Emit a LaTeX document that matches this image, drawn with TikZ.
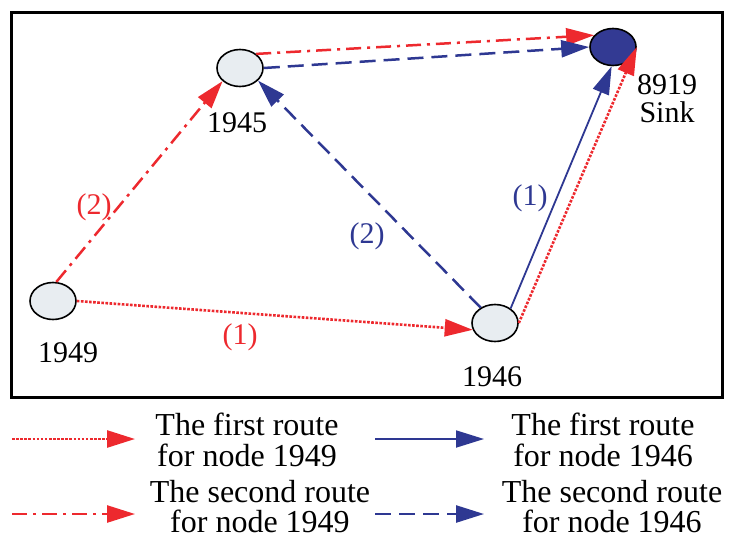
\documentclass[tikz,border=0pt]{standalone}
\usepackage{fontspec}
\setmainfont{Liberation Serif}
\usetikzlibrary{arrows.meta,shapes.geometric}
\definecolor{cred}{RGB}{237,41,46}
\definecolor{cblue}{RGB}{46,56,146}
\definecolor{nfill}{RGB}{232,237,241}
\definecolor{sinkfill}{RGB}{51,58,147}
\tikzset{
  nd/.style={ellipse,draw=black,line width=1.6pt,fill=nfill,minimum width=46pt,minimum height=37pt,inner sep=0pt},
  sinknd/.style={nd,fill=sinkfill},
  lbl/.style={font=\fontsize{30pt}{32pt}\selectfont,inner sep=0pt},
  legtxt/.style={font=\fontsize{32pt}{31pt}\selectfont,align=center,inner sep=0pt},
  legtxtb/.style={font=\fontsize{32pt}{30pt}\selectfont,align=center,inner sep=0pt},
  tip/.style={-{Triangle[length=28pt,width=17pt]}},
  rdot/.style={tip,cred,line width=2.6pt,dash pattern=on 2.6pt off 1.5pt},
  rdashdot/.style={tip,cred,line width=2.5pt,dash pattern=on 15pt off 6pt on 3pt off 6pt},
  bsolid/.style={tip,cblue,line width=1.8pt},
  bdash/.style={tip,cblue,line width=2.5pt,dash pattern=on 16pt off 8pt},
}
\begin{document}
\begin{tikzpicture}[x=1pt,y=-1pt]
\useasboundingbox (0,0) rectangle (735,541);
\draw[line width=3pt] (11,12) rectangle (722,397);
% nodes
\node[nd] (n1945) at (240,68) {};
\node[sinknd] (n8919) at (613,47) {};
\node[nd] (n1949) at (53,301) {};
\node[nd] (n1946) at (495,323) {};
% node labels
\node[lbl] (t1945) at (237,123) {1945};
\node[lbl,align=center,font=\fontsize{30pt}{28pt}\selectfont] (t8919) at (667,99) {8919\\Sink};
\node[lbl] (t1949) at (68,353) {1949};
\node[lbl] (t1946) at (492,377) {1946};
% edges
\draw[rdot] (n1949.east) -- (n1946.197);
\draw[rdashdot] (n1949.80) -- (n1945.217);
\draw[bdash] (n1946.133) -- (n1945.325);
\draw[rdashdot] (n1945.41) -- (n8919.148);
\draw[bdash] (n1945.east) -- (n8919.west);
\draw[bsolid] (n1946.43) -- (n8919.266);
\draw[rdot] (n1946.east) -- (n8919.east);
% edge labels
\node[lbl,text=cred] (e1) at (94,207) {(2)};
\node[lbl,text=cblue] (e2) at (367,236) {(2)};
\node[lbl,text=cblue] (e3) at (530,198) {(1)};
\node[lbl,text=cred] (e4) at (240,337) {(1)};
% legend
\coordinate (a1) at (12,439); \coordinate (b1) at (135,439);
\coordinate (a2) at (375,439); \coordinate (b2) at (484,439);
\coordinate (a3) at (12,514); \coordinate (b3) at (135,514);
\coordinate (a4) at (375,514); \coordinate (b4) at (484,514);
\draw[rdot] (a1) -- (b1);
\draw[bsolid] (a2) -- (b2);
\draw[rdashdot] (a3) -- (b3);
\draw[bdash] (a4) -- (b4);
\node[legtxt] (L1) at (247,440) {The first route\\for node 1949};
\node[legtxt] (L2) at (603,440) {The first route\\for node 1946};
\node[legtxtb] (L3) at (260,507) {The second route\\for node 1949};
\node[legtxtb] (L4) at (612,507) {The second route\\for node 1946};
\end{tikzpicture}
\end{document}
